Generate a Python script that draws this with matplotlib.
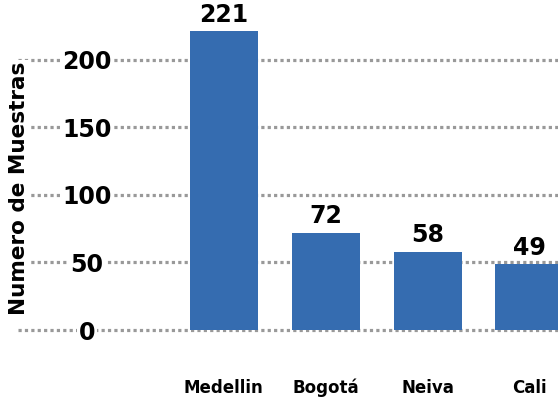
import matplotlib
matplotlib.use("Agg")
import matplotlib.pyplot as plt

# datos
ciudades = ["Medellin", "Bogotá", "Neiva", "Cali"]
muestras = [221, 72, 58, 49]
ticks_y = [0, 50, 100, 150, 200]

plt.rcParams['font.family'] = ['DejaVu Sans']
plt.rcParams['font.weight'] = 'bold'

fig = plt.figure(figsize=(5.58, 3.98), dpi=100)
# ejes: de x=18px hasta el borde derecho, 0 en y=330px
ax = fig.add_axes([18 / 558, 68 / 398, 540 / 558, 330 / 398])

pos = list(range(len(ciudades)))
barras = ax.bar(pos, muestras, width=0.667, color="#356cb0", zorder=2)
ax.bar_label(barras, labels=[str(m) for m in muestras], padding=3,
             fontsize=17, fontweight='bold', color='black')

ax.set_xlim(-2.02, 3.28)
ax.set_ylim(0, 244)
ax.set_yticks(ticks_y)
ax.set_xticks(pos)
ax.set_xticklabels(ciudades, fontsize=12, fontweight='bold')

ax.grid(axis='y', color='#999999', linestyle=(0, (1, 1)), linewidth=2.3)
ax.set_axisbelow(True)
for gl in ax.get_ygridlines():
    gl.set_clip_on(False)
for s in ax.spines.values():
    s.set_visible(False)

ax.tick_params(axis='x', length=0, pad=35)
ax.tick_params(axis='y', length=0, pad=-49.7, labelsize=17)
for lbl in ax.get_yticklabels():
    lbl.set_horizontalalignment('center')
    lbl.set_fontweight('bold')
    lbl.set_bbox(dict(facecolor='white', edgecolor='none', pad=1.5))

ax.set_ylabel("Numero de Muestras", fontsize=15.5, fontweight='bold',
              bbox=dict(facecolor='white', edgecolor='none', pad=1))
ax.yaxis.set_label_coords(11 / 540, 0.43)

fig.savefig("out.png", dpi=100)
